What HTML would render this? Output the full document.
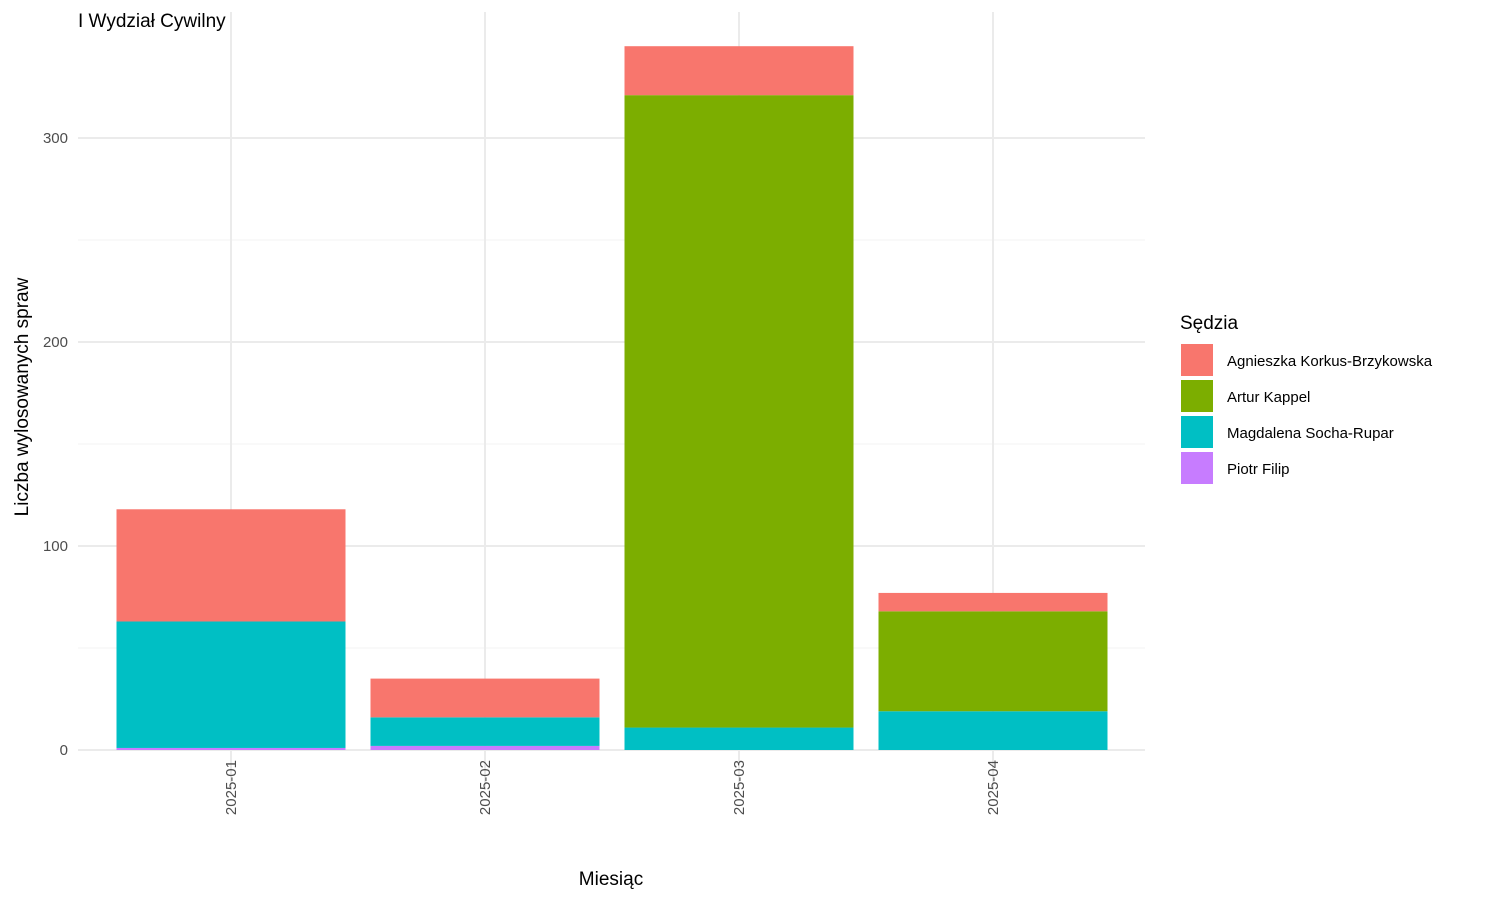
<!DOCTYPE html>
<html><head><meta charset="utf-8"><style>body{margin:0;background:#fff}svg{font-family:"Liberation Sans",sans-serif}</style></head>
<body>
<svg id="c" width="1500" height="900"></svg>
<script>
const months=["2025-01","2025-02","2025-03","2025-04"];
const judges=["Agnieszka Korkus-Brzykowska","Artur Kappel","Magdalena Socha-Rupar","Piotr Filip"];
const colors=["#F8766D","#7CAE00","#00BFC4","#C77CFF"];
const piotr=[1,2,0,0];
const magdalena=[62,14,11,19];
const artur=[0,0,310,49];
const agnieszka=[55,19,24,9];
const yTicks=[0,100,200,300];
const yMinor=[50,150,250];
const NS="http://www.w3.org/2000/svg";
const svg=document.getElementById('c');
function el(t,a,p){const e=document.createElementNS(NS,t);for(const k in a)e.setAttribute(k,a[k]);(p||svg).appendChild(e);return e;}
const x0=78,x1=1145,step=254,bw=229;
const y=v=>750-v*2.04;
const xc=i=>231+i*step;
yMinor.forEach(v=>{const l=el('line',{x1:x0,x2:x1,y1:y(v),y2:y(v),stroke:'#f3f3f3','stroke-width':1});
});
yTicks.forEach(v=>{const l=el('line',{x1:x0,x2:x1,y1:y(v),y2:y(v),stroke:'#ebebeb','stroke-width':2});

const t=el('text',{x:68,y:y(v)+5,'text-anchor':'end','font-size':15,fill:'#4d4d4d'});t.textContent=v;
});
months.forEach((m,i)=>{const l=el('line',{x1:xc(i),x2:xc(i),y1:12,y2:790,stroke:'#ebebeb','stroke-width':2});

const t=el('text',{x:0,y:0,'text-anchor':'end','font-size':15,fill:'#4d4d4d',transform:`translate(${xc(i)+5},760) rotate(-90)`});t.textContent=m;
});
const series=[[piotr,3],[magdalena,2],[artur,1],[agnieszka,0]];
months.forEach((m,i)=>{let base=0;series.forEach(([arr,ci])=>{const v=arr[i];if(v<=0)return;
const r=el('rect',{x:xc(i)-bw/2,y:y(base+v),width:bw,height:v*2.04,fill:colors[ci]});

base+=v;});});
let t=el('text',{x:78,y:27,'font-size':19,fill:'#000'});t.textContent="I Wydział Cywilny";

t=el('text',{x:611,y:885,'text-anchor':'middle','font-size':19});t.textContent="Miesiąc";

t=el('text',{x:0,y:0,'text-anchor':'middle','font-size':19,transform:'translate(28,397) rotate(-90)'});t.textContent="Liczba wylosowanych spraw";

t=el('text',{x:1180,y:329,'font-size':19});t.textContent="Sędzia";

judges.forEach((j,i)=>{const g=el('g',{});
el('rect',{x:1181,y:344+i*36,width:32,height:32,fill:colors[i]},g);
const tt=el('text',{x:1227,y:366+i*36,'font-size':15},g);tt.textContent=j;});
</script>
</body></html>
